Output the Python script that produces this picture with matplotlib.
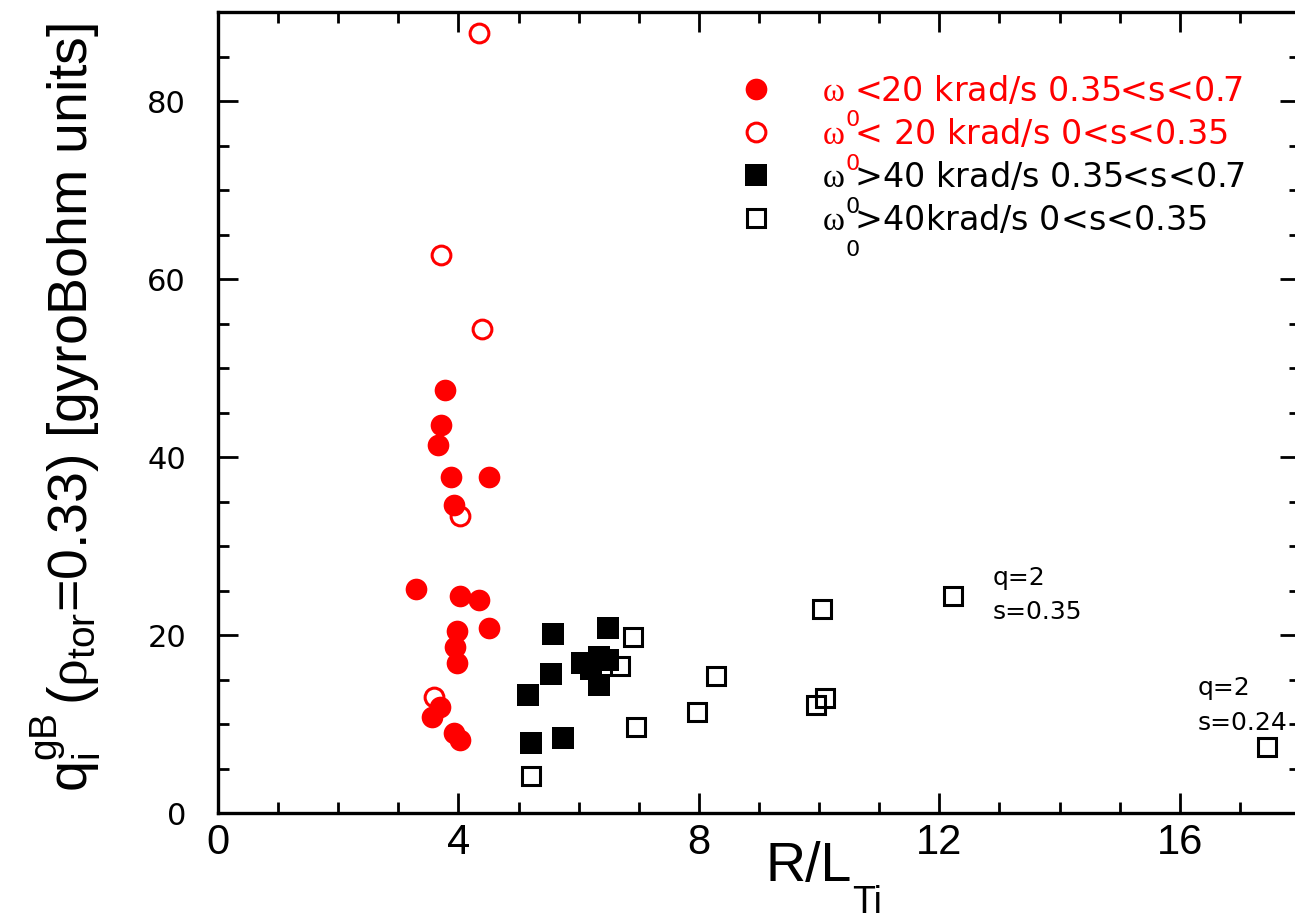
import matplotlib
matplotlib.use('Agg')
import matplotlib.pyplot as plt
from matplotlib import font_manager
from matplotlib.ticker import MultipleLocator

# ---------------- data ----------------
red_fill_x = [3.77, 3.71, 3.66, 3.88, 4.51, 3.92, 3.29, 4.03, 4.35, 4.51, 3.97, 3.95, 3.97, 3.70, 3.56, 3.92, 4.03]
red_fill_y = [47.6, 43.6, 41.4, 37.8, 37.8, 34.6, 25.2, 24.4, 24.0, 20.8, 20.5, 18.65, 16.85, 11.9, 10.85, 9.0, 8.2]

red_open_x = [4.35, 3.71, 4.40, 4.03, 3.60]
red_open_y = [87.7, 62.7, 54.4, 33.4, 13.1]

black_fill_x = [5.57, 6.49, 5.54, 5.16, 6.06, 6.33, 6.48, 6.21, 6.33, 5.21, 5.74]
black_fill_y = [20.1, 20.8, 15.7, 13.3, 16.9, 17.6, 17.2, 16.2, 14.4, 7.9, 8.5]

black_open_x = [6.90, 6.69, 6.96, 5.21, 8.29, 7.97, 10.05, 9.94, 10.10, 12.23, 17.45]
black_open_y = [19.8, 16.5, 9.7, 4.2, 15.4, 11.4, 23.0, 12.2, 12.9, 24.4, 7.4]

legend_labels = [r'$\omega$ <20 krad/s 0.35<s<0.7',
                 r'$\omega$ < 20 krad/s 0<s<0.35',
                 r'$\omega$ >40 krad/s 0.35<s<0.7',
                 r'$\omega$ >40krad/s 0<s<0.35']
legend_colors = ['#ff0000', '#ff0000', 'black', 'black']

annot_text = ['q=2', 's=0.35', 'q=2', 's=0.24']
annot_x = [12.89, 12.89, 16.30, 16.30]
annot_y = [26.4, 22.6, 14.1, 10.2]

x_ticks = [0, 4, 8, 12, 16]
y_ticks = [0, 20, 40, 60, 80]

# ---------------- fonts ----------------
names = {f.name for f in font_manager.fontManager.ttflist}
NARROW = 'Liberation Sans Narrow' if 'Liberation Sans Narrow' in names else 'Liberation Sans'
WIDE = 'DejaVu Sans'

plt.rcParams['font.family'] = ['Liberation Sans', 'DejaVu Sans']
plt.rcParams['mathtext.fontset'] = 'custom'
plt.rcParams['mathtext.rm'] = NARROW
plt.rcParams['mathtext.it'] = 'Liberation Serif'
plt.rcParams['mathtext.bf'] = 'Liberation Sans:bold'

W, H = 1295, 923
fig = plt.figure(figsize=(W / 100, H / 100), dpi=100)
ax = fig.add_axes([218 / W, 1 - 813.3 / H, (1300 - 218) / W, (813.3 - 12.3) / H])

RED = '#ff0000'
h_ro, = ax.plot(red_open_x, red_open_y, linestyle='none', marker='o', ms=13.5,
                mfc='none', mec=RED, mew=2.2, zorder=3)
h_ko, = ax.plot(black_open_x, black_open_y, linestyle='none', marker='s', ms=13.5,
                mfc='none', mec='black', mew=2.2, zorder=3)
h_rf, = ax.plot(red_fill_x, red_fill_y, linestyle='none', marker='o', ms=15.6,
                mfc=RED, mec=RED, mew=0, zorder=4)
h_kf, = ax.plot(black_fill_x, black_fill_y, linestyle='none', marker='s', ms=16.5,
                mfc='black', mec='black', mew=0, zorder=4)

ax.set_xlim(0, 18)
ax.set_ylim(0, 90)
ax.set_xticks(x_ticks)
ax.set_yticks(y_ticks)
ax.xaxis.set_minor_locator(MultipleLocator(1))
ax.yaxis.set_minor_locator(MultipleLocator(5))
ax.tick_params(which='both', direction='in', top=True, right=True, width=2.0, color='black')
ax.tick_params(which='major', length=14.5)
ax.tick_params(which='minor', length=8)
ax.tick_params(axis='x', which='major', labelsize=30, pad=7)
ax.tick_params(axis='y', which='major', labelsize=22, pad=23)
for lab in ax.get_yticklabels():
    lab.set_fontfamily(WIDE)
for sp in ax.spines.values():
    sp.set_linewidth(2.4)

# axis labels
ax.set_xlabel('R/L', fontsize=40)
ax.xaxis.label.set_va('center')
ax.xaxis.set_label_coords((809 - 218) / 1082, (813.3 - 867) / 801)
ax.text((867 - 218) / 1082, (813.3 - 903) / 801, 'Ti', transform=ax.transAxes,
        fontsize=27, ha='center', va='center', fontfamily=NARROW)

ax.set_ylabel(r'$\mathrm{q}_{\mathrm{i}}^{\mathrm{gB}}\,(\rho_{\mathrm{tor}}$=0.33) [gyroBohm units]',
              fontsize=40, fontfamily=NARROW)
ax.yaxis.label.set_rotation_mode('default')
ax.yaxis.label.set_ha('center')
ax.yaxis.label.set_va('center')
ax.yaxis.set_label_coords((66 - 218) / 1082, (813.3 - 407) / 801)

for t, x, y in zip(annot_text, annot_x, annot_y):
    ax.text(x, y, t, fontsize=18, ha='left', va='center', fontfamily=WIDE)

# legend
leg = ax.legend([h_rf, h_ro, h_kf, h_ko], legend_labels, loc='upper left',
                bbox_to_anchor=((742 - 218) / 1082, (813.3 - 75) / 801),
                frameon=False, prop={'family': WIDE, 'size': 24},
                handlelength=0.83, handletextpad=1.57,
                labelspacing=0.30, borderpad=0, borderaxespad=0, numpoints=1)
for t, c in zip(leg.get_texts(), legend_colors):
    t.set_color(c)

fig.canvas.draw()
renderer = fig.canvas.get_renderer()
inv = fig.transFigure.inverted()
for t, c in zip(leg.get_texts(), legend_colors):
    bb = t.get_window_extent(renderer)
    xc = bb.x0 + 31
    yc = (bb.y0 + bb.y1) / 2 - 29
    fx, fy = inv.transform((xc, yc))
    fig.text(fx, fy, '0', fontsize=16, color=c, ha='center', va='center', fontfamily=WIDE)

fig.savefig('out.png', dpi=100)
